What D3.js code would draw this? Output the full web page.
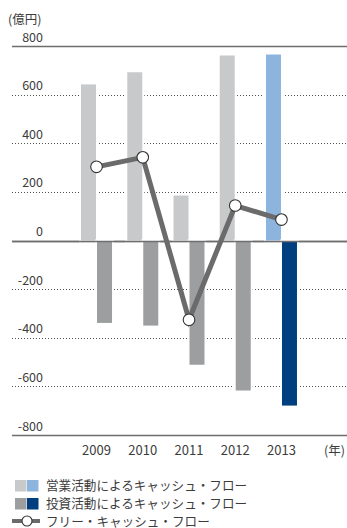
<!DOCTYPE html>
<html>
<head>
<meta charset="utf-8">
<script src="https://cdn.jsdelivr.net/npm/d3@7/dist/d3.min.js"></script>
<style>
  html, body { margin: 0; padding: 0; background: #fff; }
  svg { display: block; }
  text { font-family: "Noto Sans CJK JP", "Noto Sans", sans-serif; fill: #3c3c3c; }
</style>
</head>
<body>
<svg id="chart" width="347" height="528"></svg>
<script>
// Cash flow by fiscal year (億円)
const years = ["2009", "2010", "2011", "2012", "2013"];
const operatingCF = [642, 692, 185, 761, 765];
const investingCF = [-339, -350, -511, -617, -679];
const freeCF = [303, 342, -326, 144, 86];
const yTicks = [800, 600, 400, 200, 0, -200, -400, -600, -800];
const highlightYear = "2013";

const legendItems = [
  { label: "営業活動によるキャッシュ・フロー", colors: ["#c8c9cb", "#8db4dc"] },
  { label: "投資活動によるキャッシュ・フロー", colors: ["#9d9ea0", "#003f7f"] },
  { label: "フリー・キャッシュ・フロー", line: true }
];

const svg = d3.select("#chart");
const W = 347;
const left = 12;

const y = d3.scaleLinear().domain([-800, 800]).range([435, 46]);
const x = d3.scaleBand().domain(years).range([73.4, 304.6]);
const barW = 15;
const cx = d => x(d) + x.bandwidth() / 2;

// Gridlines: solid at the extremes and zero, dotted elsewhere
const grid = svg.append("g");
grid.selectAll("line").data(yTicks).join("line")
  .attr("x1", left).attr("x2", W)
  .attr("y1", d => Math.round(y(d)) + 0.5).attr("y2", d => Math.round(y(d)) + 0.5)
  .attr("stroke", d => (d === 0 || Math.abs(d) === 800) ? "#6e6e6e" : "#555")
  .attr("stroke-width", d => (d === 0 || Math.abs(d) === 800) ? 1.6 : 1)
  .attr("stroke-dasharray", d => (d === 0 || Math.abs(d) === 800) ? null : "1,2");

// Y tick labels
svg.append("g").selectAll("text").data(yTicks).join("text")
  .attr("x", 43).attr("y", d => y(d) - 4.5)
  .attr("text-anchor", "end")
  .attr("font-size", 12.5)
  .text(d => d);

svg.append("text").attr("x", 8).attr("y", 24)
  .attr("font-size", 12.5).text("(億円)");

// Bars
const rows = years.map((yr, i) => ({ yr, op: operatingCF[i], inv: investingCF[i], fcf: freeCF[i] }));
const bars = svg.append("g");
bars.selectAll("rect.op").data(rows).join("rect").attr("class", "op")
  .attr("x", d => cx(d.yr) - barW - 0.5)
  .attr("width", barW)
  .attr("y", d => y(d.op))
  .attr("height", d => y(0) - y(d.op))
  .attr("fill", d => d.yr === highlightYear ? legendItems[0].colors[1] : legendItems[0].colors[0])
  .attr("stroke", "#fff").attr("stroke-width", 4).attr("paint-order", "stroke fill");
bars.selectAll("rect.inv").data(rows).join("rect").attr("class", "inv")
  .attr("x", d => cx(d.yr) + 0.5)
  .attr("width", barW)
  .attr("y", y(0) + 1)
  .attr("height", d => y(d.inv) - y(0) - 1)
  .attr("fill", d => d.yr === highlightYear ? legendItems[1].colors[1] : legendItems[1].colors[0])
  .attr("stroke", "#fff").attr("stroke-width", 4).attr("paint-order", "stroke fill");

// Redraw the zero line over the bars' white edging
svg.append("line")
  .attr("x1", left).attr("x2", W)
  .attr("y1", Math.round(y(0)) + 0.5).attr("y2", Math.round(y(0)) + 0.5)
  .attr("stroke", "#6e6e6e").attr("stroke-width", 1.6);

// Free cash flow line
const line = d3.line().x(d => cx(d.yr)).y(d => y(d.fcf));
svg.append("path").datum(rows)
  .attr("d", line)
  .attr("fill", "none")
  .attr("stroke", "#6b6b6b")
  .attr("stroke-width", 5)
  .attr("stroke-linejoin", "miter");
svg.append("g").selectAll("circle").data(rows).join("circle")
  .attr("cx", d => cx(d.yr)).attr("cy", d => y(d.fcf))
  .attr("r", 5.8)
  .attr("fill", "#fff").attr("stroke", "#333").attr("stroke-width", 1.1);

// X labels
svg.append("g").selectAll("text").data(years).join("text")
  .attr("x", d => cx(d)).attr("y", 455)
  .attr("text-anchor", "middle")
  .attr("font-size", 13)
  .text(d => d);
svg.append("text").attr("x", 345).attr("y", 455)
  .attr("text-anchor", "end").attr("font-size", 12.5).text("(年)");

// Legend
const lg = svg.append("g");
const rowY = [485.5, 503.5, 521];
legendItems.forEach((item, i) => {
  const g = lg.append("g").attr("transform", `translate(0,${rowY[i]})`);
  if (item.line) {
    g.append("line").attr("x1", 12).attr("x2", 40).attr("y1", 0).attr("y2", 0)
      .attr("stroke", "#6b6b6b").attr("stroke-width", 4);
    g.append("circle").attr("cx", 27).attr("cy", 0).attr("r", 5)
      .attr("fill", "#fff").attr("stroke", "#333").attr("stroke-width", 1.1);
  } else {
    g.append("rect").attr("x", 15).attr("y", -5.5).attr("width", 11.5).attr("height", 11.5)
      .attr("fill", item.colors[0]);
    g.append("rect").attr("x", 27).attr("y", -5.5).attr("width", 11.5).attr("height", 11.5)
      .attr("fill", item.colors[1]);
  }
  g.append("text").attr("x", 46).attr("y", 4.5)
    .attr("font-size", 12.6).text(item.label);
});
</script>
</body>
</html>
